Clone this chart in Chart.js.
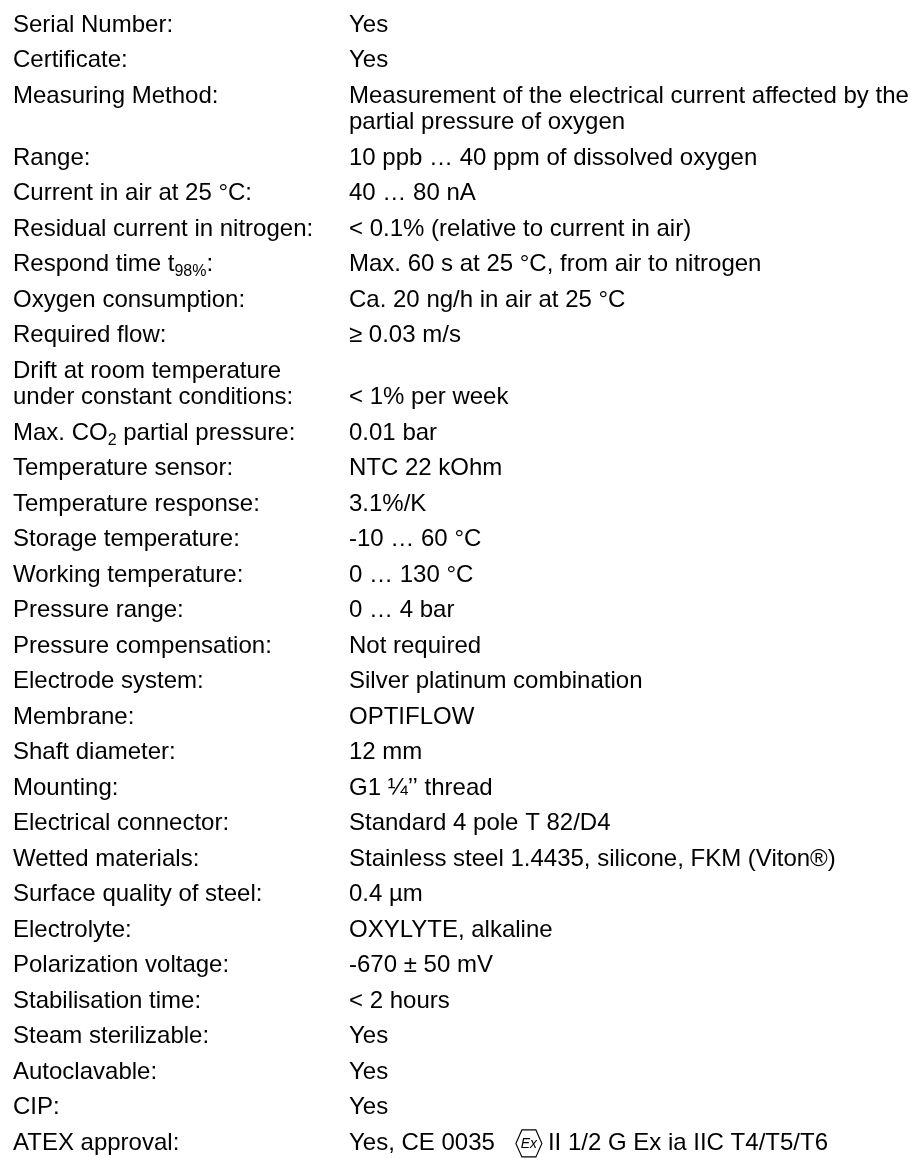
<!DOCTYPE html>
<html>
<head>
<meta charset="utf-8">
<script src="https://cdn.jsdelivr.net/npm/chart.js@4/dist/chart.umd.min.js"></script>
<style>
  html, body { margin: 0; padding: 0; background: #ffffff; }
  #wrap { width: 911px; height: 1158px; position: relative; }
  canvas { display: block; }
</style>
</head>
<body>
<div id="wrap"><canvas id="c" width="911" height="1158" aria-label="Technical specifications of the oxygen sensor"></canvas></div>
<script>
// ---- data (text content of the specification sheet) ----
// "|" separates lines inside one entry, "_{...}" marks subscript, "{EX}" the Ex mark
const categories = [
  "Serial Number:",
  "Certificate:",
  "Measuring Method:",
  "Range:",
  "Current in air at 25 °C:",
  "Residual current in nitrogen:",
  "Respond time t_{98%}:",
  "Oxygen consumption:",
  "Required flow:",
  "Drift at room temperature|under constant conditions:",
  "Max. CO_{2} partial pressure:",
  "Temperature sensor:",
  "Temperature response:",
  "Storage temperature:",
  "Working temperature:",
  "Pressure range:",
  "Pressure compensation:",
  "Electrode system:",
  "Membrane:",
  "Shaft diameter:",
  "Mounting:",
  "Electrical connector:",
  "Wetted materials:",
  "Surface quality of steel:",
  "Electrolyte:",
  "Polarization voltage:",
  "Stabilisation time:",
  "Steam sterilizable:",
  "Autoclavable:",
  "CIP:",
  "ATEX approval:"
];
const values = [
  "Yes",
  "Yes",
  "Measurement of the electrical current affected by the|partial pressure of oxygen",
  "10 ppb … 40 ppm of dissolved oxygen",
  "40 … 80 nA",
  "< 0.1% (relative to current in air)",
  "Max. 60 s at 25 °C, from air to nitrogen",
  "Ca. 20 ng/h in air at 25 °C",
  "≥ 0.03 m/s",
  "< 1% per week",
  "0.01 bar",
  "NTC 22 kOhm",
  "3.1%/K",
  "-10 … 60 °C",
  "0 … 130 °C",
  "0 … 4 bar",
  "Not required",
  "Silver platinum combination",
  "OPTIFLOW",
  "12 mm",
  "G1 ¼’’ thread",
  "Standard 4 pole T 82/D4",
  "Stainless steel 1.4435, silicone, FKM (Viton®)",
  "0.4 µm",
  "OXYLYTE, alkaline",
  "-670 ± 50 mV",
  "< 2 hours",
  "Yes",
  "Yes",
  "Yes",
  "Yes, CE 0035{EX}II 1/2 G Ex ia IIC T4/T5/T6"
];
const columns = ["label", "value"];

// ---- layout/style ----
const FONT = '"Liberation Sans", Arial, Helvetica, sans-serif';
const FS = 24, SUB_FS = 16, SUB_DY = 5;
const LINE_FRAC = 0.746;          // extra line inside one entry, in row units
const COL_X = { label: 13, value: 349 };
const COLOR = '#000000';

// row positions (in row units) derived from the entries
const rowPos = [];
(function () {
  let extra = 0;
  for (let i = 0; i < categories.length; i++) {
    rowPos.push(i + extra * LINE_FRAC);
    const n = Math.max(categories[i].split('|').length, values[i].split('|').length);
    extra += n - 1;
  }
})();

function parseSegs(line) {
  const segs = [];
  const re = /_\{([^}]*)\}|\{EX\}/g;
  let last = 0, m;
  while ((m = re.exec(line)) !== null) {
    if (m.index > last) segs.push({ t: line.slice(last, m.index), k: 'n' });
    if (m[0] === '{EX}') segs.push({ k: 'ex' });
    else segs.push({ t: m[1], k: 's' });
    last = re.lastIndex;
  }
  if (last < line.length) segs.push({ t: line.slice(last), k: 'n' });
  return segs;
}

function drawEx(ctx, x, base) {
  // explosion-protection mark: elongated hexagon with "Ex"
  const w = 26, top = base - 20, bot = base + 7, yc = (top + bot) / 2, d = 6;
  ctx.save();
  ctx.lineWidth = 1.1;
  ctx.strokeStyle = COLOR;
  ctx.beginPath();
  ctx.moveTo(x, yc);
  ctx.lineTo(x + d, top);
  ctx.lineTo(x + w - d, top);
  ctx.lineTo(x + w, yc);
  ctx.lineTo(x + w - d, bot);
  ctx.lineTo(x + d, bot);
  ctx.closePath();
  ctx.stroke();
  ctx.font = 'italic 14px ' + FONT;
  ctx.textAlign = 'center';
  ctx.textBaseline = 'middle';
  ctx.fillStyle = COLOR;
  ctx.fillText('Ex', x + w / 2, yc + 0.5);
  ctx.restore();
}

function drawRich(ctx, line, x, base) {
  let cx = x;
  for (const s of parseSegs(line)) {
    if (s.k === 'n') {
      ctx.font = FS + 'px ' + FONT;
      ctx.fillText(s.t, cx, base);
      cx += ctx.measureText(s.t).width;
    } else if (s.k === 's') {
      ctx.font = SUB_FS + 'px ' + FONT;
      ctx.fillText(s.t, cx, base + SUB_DY);
      cx += ctx.measureText(s.t).width;
    } else {
      cx += 21;
      drawEx(ctx, cx, base);
      cx += 26 + 6;
    }
  }
}

const specTextPlugin = {
  id: 'specText',
  afterDraw(chart) {
    const ctx = chart.ctx;
    const xs = chart.scales.x, ys = chart.scales.y;
    ctx.save();
    ctx.fillStyle = COLOR;
    ctx.textBaseline = 'alphabetic';
    ctx.textAlign = 'left';
    for (let i = 0; i < categories.length; i++) {
      const cells = { label: categories[i].split('|'), value: values[i].split('|') };
      const n = Math.max(cells.label.length, cells.value.length);
      for (const col of columns) {
        const lines = cells[col];
        // shorter cell aligns with the last line of the entry
        const startLine = col === 'value' ? n - lines.length : 0;
        lines.forEach((ln, j) => {
          const y = ys.getPixelForValue(rowPos[i] + (startLine + j) * LINE_FRAC);
          const x = xs.getPixelForValue(COL_X[col]);
          drawRich(ctx, ln, x, y);
        });
      }
    }
    ctx.restore();
  }
};

new Chart(document.getElementById('c'), {
  type: 'scatter',
  data: { datasets: [{ data: [], pointRadius: 0 }] },
  options: {
    responsive: false,
    animation: false,
    events: [],
    layout: { padding: 0 },
    plugins: { legend: { display: false }, tooltip: { enabled: false }, title: { display: false } },
    scales: {
      x: { type: 'linear', display: false, min: 0, max: 911 },
      y: { type: 'linear', display: false, reverse: true, min: -0.9, max: 31.72 }
    }
  },
  plugins: [specTextPlugin]
});
</script>
</body>
</html>
